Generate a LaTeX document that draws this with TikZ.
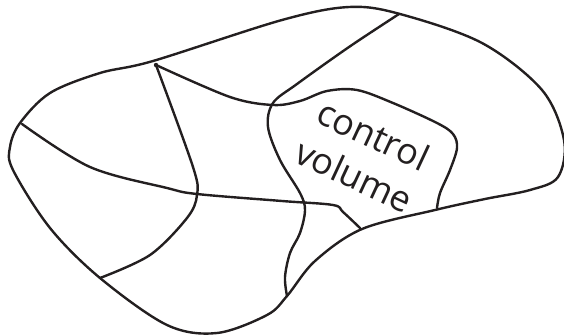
\documentclass[tikz,border=0pt]{standalone}
\usepackage{fontspec}
\setsansfont{Open Sans}
\usepackage{tikz}
\usetikzlibrary{calc, positioning}
\usepackage{xcolor}
\definecolor{Ink}{HTML}{231F20}
\tikzset{
  bnd/.style={
    draw=Ink, line width=2.4pt, line join=round, line cap=round,
  },
  cut/.style={
    draw=Ink, line width=2.4pt, line cap=round,
  },
  lbl/.style={
    font=\sffamily\fontsize{36}{45}\selectfont, text=Ink,
    align=center, inner sep=0pt, rotate=-25,
  },
}

\begin{document}
\begin{tikzpicture}[x=1pt,y=-1pt]
  \useasboundingbox (0,0) rectangle (564,335);
  % outer boundary of the region
  \draw[bnd] plot[smooth cycle, tension=0.55] coordinates {
    (153,61) (282,20) (349,7) (400,14) (482,43) (542,90) (564,140)
    (558,177) (530,190) (485,199) (435,210) (362,229) (315,261)
    (287,296) (267,315) (217,333) (167,325) (100,278) (50,228)
    (13,170) (10,147) (20,123) (50,93) (100,73)};
  \coordinate (tip) at (156,65);
  \fill[Ink] (tip) circle (2.2pt);
  % cuts through the region
  \draw[cut] plot[smooth, tension=0.55] coordinates {
    (399,14) (349,47) (297,84) (273,103) (268,127) (280,160)
    (300,193) (305,210) (300,233) (290,253) (285,277) (287,296)};
  \draw[cut] plot[smooth, tension=0.55] coordinates {
    (tip) (230,97) (273,105) (300,101) (327,91) (357,90) (393,103)
    (437,123) (453,134) (457,148) (450,170) (440,193) (437,208)};
  \draw[cut] plot[smooth, tension=0.55] coordinates {
    (tip) (193,167) (197,195) (187,218) (150,255) (100,278)};
  \draw[cut] plot[smooth, tension=0.55] coordinates {
    (22,124) (90,167) (167,188) (197,194) (282,201) (333,205)
    (343,212) (360,228)};
  \node[lbl] (cv) at (364,155) {control\\volume};
\end{tikzpicture}
\end{document}
